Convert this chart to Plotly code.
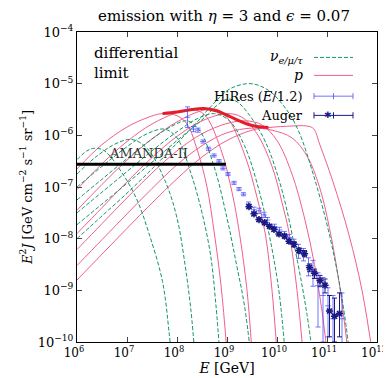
import plotly.graph_objects as go

# ---------------- data (log10 E [GeV], log10 E^2 J) ----------------
# proton curves (pink)
p_logE = [
    [6.0, 6.5, 7.0, 7.4, 7.7, 8.0, 8.2, 8.41, 8.6, 8.74, 8.88, 9.0],
    [6.0, 6.5, 7.0, 7.5, 8.0, 8.3, 8.55, 8.87, 9.1, 9.25, 9.4, 9.5],
    [6.0, 6.5, 7.0, 7.5, 8.0, 8.5, 8.8, 9.05, 9.38, 9.6, 9.77, 9.9, 10.0],
    [6.0, 6.5, 7.0, 7.5, 8.0, 8.5, 9.0, 9.3, 9.6, 9.9, 10.1, 10.25, 10.4, 10.52],
    [6.0, 6.5, 7.0, 7.5, 8.0, 8.5, 9.0, 9.4, 9.7, 10.0, 10.3, 10.55, 10.75, 10.9, 11.0],
    [6.0, 6.5, 7.0, 7.5, 8.0, 8.5, 9.0, 9.5, 9.9, 10.3, 10.6, 10.85, 11.05, 11.25, 11.42],
    [6.0, 6.5, 7.0, 7.5, 8.0, 8.5, 9.0, 9.5, 9.83, 10.3, 10.6, 10.73, 10.86, 11.12, 11.44, 11.7, 11.92],
]
p_logF = [
    [-6.65, -6.18, -5.84, -5.66, -5.58, -5.62, -5.78, -6.3, -7.0, -7.85, -8.9, -10.2],
    [-7.05, -6.55, -6.12, -5.78, -5.56, -5.5, -5.6, -6.25, -7.1, -7.9, -9.0, -10.2],
    [-7.45, -6.95, -6.48, -6.07, -5.74, -5.52, -5.5, -5.72, -6.45, -7.2, -7.93, -9.0, -10.2],
    [-7.9, -7.4, -6.9, -6.43, -6.02, -5.72, -5.58, -5.65, -5.97, -6.6, -7.3, -7.93, -9.0, -10.2],
    [-8.21, -7.71, -7.21, -6.73, -6.3, -5.97, -5.77, -5.72, -5.8, -6.1, -6.75, -7.6, -8.5, -9.4, -10.2],
    [-8.52, -8.02, -7.52, -7.03, -6.57, -6.2, -5.95, -5.86, -5.9, -6.05, -6.4, -7.0, -7.8, -8.9, -10.2],
    [-8.8, -8.3, -7.8, -7.31, -6.84, -6.42, -6.1, -5.9, -5.85, -5.82, -5.82, -5.87, -6.19, -6.9, -7.93, -9.0, -10.3],
]
# neutrino curves (green dashed)
nu_logE = [
    [6.0, 6.2, 6.35, 6.55, 6.93, 7.2, 7.45, 7.71, 7.84, 7.9],
    [6.0, 6.4, 6.8, 7.1, 7.4, 7.77, 8.0, 8.16, 8.28, 8.36],
    [6.0, 6.5, 7.0, 7.4, 7.75, 8.0, 8.29, 8.5, 8.67, 8.78, 8.86],
    [6.0, 6.5, 7.0, 7.5, 7.9, 8.2, 8.45, 8.74, 9.0, 9.19, 9.35, 9.48],
    [6.0, 6.5, 7.0, 7.5, 8.0, 8.4, 8.75, 9.05, 9.35, 9.65, 9.9, 10.05, 10.17],
    [6.0, 6.5, 7.0, 7.5, 8.0, 8.5, 8.8, 9.0, 9.2, 9.45, 9.77, 10.09, 10.41, 10.6, 10.72],
    [6.0, 6.5, 7.0, 7.5, 8.0, 8.35, 8.67, 9.06, 9.48, 9.83, 10.15, 10.41, 10.73, 11.05, 11.31, 11.46],
]
nu_logF = [
    [-6.47, -6.3, -6.25, -6.3, -6.77, -7.25, -7.93, -8.83, -9.8, -10.4],
    [-6.75, -6.4, -6.15, -6.08, -6.25, -6.9, -7.6, -8.5, -9.4, -10.3],
    [-7.0, -6.6, -6.22, -5.97, -5.88, -6.05, -6.77, -7.5, -8.31, -9.3, -10.3],
    [-7.25, -6.85, -6.45, -6.07, -5.82, -5.72, -5.9, -6.6, -7.6, -8.5, -9.3, -10.3],
    [-7.5, -7.1, -6.7, -6.3, -5.93, -5.68, -5.58, -5.72, -6.2, -7.1, -8.2, -9.1, -10.3],
    [-7.73, -7.33, -6.93, -6.52, -6.1, -5.7, -5.42, -5.3, -5.35, -5.61, -6.13, -7.03, -8.44, -9.47, -10.3],
    [-8.0, -7.56, -7.12, -6.65, -6.15, -5.8, -5.45, -5.1, -5.0, -5.13, -5.45, -5.87, -6.77, -7.93, -9.21, -10.3],
]
# differential limit envelope (thick red)
lim_logE = [7.71, 8.0, 8.3, 8.54, 8.8, 9.0, 9.2, 9.4, 9.6, 9.83]
lim_logF = [-5.58, -5.55, -5.5, -5.48, -5.53, -5.61, -5.7, -5.78, -5.83, -5.85]

# AMANDA-II limit
amanda_E = [1e6, 9.5e8]
amanda_F = [2.75e-7, 2.75e-7]

# HiRes (E/1.2)
hires_logE = [8.21, 8.33, 8.42, 8.52, 8.63, 8.74, 8.84, 8.92, 9.02, 9.14, 9.24, 9.33, 9.43,
              9.54, 9.64, 9.74, 9.81, 9.95, 10.05, 10.15, 10.24, 10.34, 10.43, 10.53,
              10.63, 10.72, 10.82, 10.92, 11.02, 11.12, 11.3]
hires_logF = [-5.65, -5.88, -5.9, -6.12, -6.26, -6.39, -6.50, -6.64, -6.75, -6.92, -7.04, -7.14, -7.33,
              -7.44, -7.46, -7.54, -7.64, -7.77, -7.83, -7.92, -7.98, -8.08, -8.23, -8.31,
              -8.52, -8.62, -8.91, -9.10, -9.3, -9.55, -9.55]
hires_err_up = [0.2, 0.05, 0.04, 0.03, 0.03, 0.03, 0.03, 0.03, 0.03, 0.03, 0.03, 0.03, 0.04,
                0.05, 0.05, 0.05, 0.05, 0.05, 0.05, 0.06, 0.06, 0.07, 0.12, 0.12,
                0.15, 0.2, 0.25, 0.35, 0.35, 0.45, 0.5]
hires_err_dn = [0.2, 0.05, 0.04, 0.03, 0.03, 0.03, 0.03, 0.03, 0.03, 0.03, 0.03, 0.03, 0.04,
                0.05, 0.05, 0.05, 0.05, 0.05, 0.05, 0.06, 0.06, 0.07, 0.15, 0.12,
                0.2, 0.3, 0.8, 0.9, 0.6, 0.5, 0.5]

# Auger
auger_logE = [9.44, 9.54, 9.64, 9.75, 9.85, 9.94, 10.04, 10.15, 10.24, 10.34, 10.44, 10.55,
              10.65, 10.75, 10.86, 10.96, 11.05, 11.15, 11.25]
auger_logF = [-7.38, -7.52, -7.63, -7.69, -7.76, -7.82, -7.91, -7.95, -8.05, -8.11, -8.23, -8.29,
              -8.56, -8.67, -8.81, -8.90, -9.4, -9.5, -9.45]
auger_err_up = [0.03, 0.03, 0.03, 0.03, 0.03, 0.03, 0.03, 0.04, 0.04, 0.05, 0.05, 0.06,
                0.07, 0.08, 0.1, 0.12, 0.3, 0.35, 0.4]
auger_err_dn = [0.03, 0.03, 0.03, 0.03, 0.03, 0.03, 0.03, 0.04, 0.04, 0.05, 0.05, 0.06,
                0.08, 0.1, 0.12, 0.15, 0.5, 0.5, 0.45]

# ---------------- styling ----------------
PINK = "rgb(240,96,140)"
GREEN = "rgb(20,150,100)"
RED = "rgb(226,30,40)"
BLUE = "rgba(70,70,255,0.75)"
NAVY = "rgb(25,25,130)"
FONT = "DejaVu Serif"


def tolin(v):
    return [10 ** a for a in v]


fig = go.Figure()

for xe, yf in zip(p_logE, p_logF):
    fig.add_trace(go.Scatter(x=tolin(xe), y=tolin(yf), mode="lines",
                             line=dict(color=PINK, width=1, shape="spline", smoothing=1.0),
                             showlegend=False, hoverinfo="skip"))
for xe, yf in zip(nu_logE, nu_logF):
    fig.add_trace(go.Scatter(x=tolin(xe), y=tolin(yf), mode="lines",
                             line=dict(color=GREEN, width=1, dash="4px,2px", shape="spline", smoothing=1.0),
                             showlegend=False, hoverinfo="skip"))

fig.add_trace(go.Scatter(x=tolin(lim_logE), y=tolin(lim_logF), mode="lines",
                         line=dict(color=RED, width=3, shape="spline"),
                         showlegend=False, hoverinfo="skip"))

fig.add_trace(go.Scatter(x=amanda_E, y=amanda_F, mode="lines",
                         line=dict(color="black", width=3), showlegend=False, hoverinfo="skip"))


def errs(logF, up, dn):
    hi = [10 ** (f + u) - 10 ** f for f, u in zip(logF, up)]
    lo = [10 ** f - 10 ** (f - d) for f, d in zip(logF, dn)]
    return hi, lo


hu, hl = errs(hires_logF, hires_err_up, hires_err_dn)
fig.add_trace(go.Scatter(x=tolin(hires_logE), y=tolin(hires_logF), mode="markers",
                         marker=dict(symbol="line-ew", size=4, color=BLUE, line=dict(color=BLUE, width=1)),
                         error_y=dict(type="data", array=hu, arrayminus=hl, color=BLUE, thickness=1, width=2.5),
                         showlegend=False, hoverinfo="skip"))
au, al = errs(auger_logF, auger_err_up, auger_err_dn)
fig.add_trace(go.Scatter(x=tolin(auger_logE), y=tolin(auger_logF), mode="markers",
                         marker=dict(symbol="asterisk-open", size=6, color=NAVY, line=dict(color=NAVY, width=1.5)),
                         error_y=dict(type="data", array=au, arrayminus=al, color=NAVY, thickness=1, width=2.5),
                         showlegend=False, hoverinfo="skip"))

xt = [10 ** k for k in range(6, 13)]
yt = [10 ** k for k in range(-10, -3)]
fig.update_xaxes(type="log", range=[6, 12], tickvals=xt,
                 ticktext=[f"10<sup>{k}</sup>" for k in range(6, 13)],
                 ticks="inside", ticklen=5, mirror="ticks", showline=True, linecolor="black",
                 linewidth=1, showgrid=False, zeroline=False, ticklabeloverflow="allow",
                 ticklabelshift=-3,
                 tickfont=dict(family=FONT, size=12, color="black"),
                 title=dict(text="<i>E</i> [GeV]", font=dict(family=FONT, size=14, color="black"), standoff=3))
fig.update_yaxes(type="log", range=[-10, -4], tickvals=yt,
                 ticktext=[f"10<sup>−{abs(k)}</sup>" for k in range(-10, -3)],
                 ticks="inside", ticklen=5, mirror="ticks", showline=True, linecolor="black",
                 linewidth=1, showgrid=False, zeroline=False, ticklabeloverflow="allow",
                 tickfont=dict(family=FONT, size=13, color="black"),
                 title=dict(text="<i>E</i><sup>2</sup><i>J</i> [GeV cm<sup>−2</sup> s<sup>−1</sup> sr<sup>−1</sup>]",
                            font=dict(family=FONT, size=13, color="black"), standoff=2))

LEG_Y = [0.918, 0.86, 0.793, 0.731]
ann = [
    dict(text="emission with <i>η</i> = 3 and <i>ϵ</i> = 0.07", x=0.49, y=1.052, xref="paper", yref="paper",
         yanchor="middle", showarrow=False, font=dict(family=FONT, size=15, color="black")),
    dict(text="differential<br>limit", x=0.05, y=0.968, xref="paper", yref="paper", xanchor="left", yanchor="top",
         align="left", showarrow=False, font=dict(family=FONT, size=15, color="black")),
    dict(text="AMANDA-II", x=7.42, y=-6.36, xref="x", yref="y", showarrow=False, yanchor="middle",
         font=dict(family=FONT, size=13, color="rgb(50,50,50)")),
    dict(text="<i>ν</i><sub><i>e/μ/τ</i></sub>", x=0.76, y=LEG_Y[0], xref="paper", yref="paper", xanchor="right",
         yanchor="middle", showarrow=False, font=dict(family=FONT, size=14, color="black")),
    dict(text="<i>p</i>", x=0.76, y=LEG_Y[1], xref="paper", yref="paper", xanchor="right",
         yanchor="middle", showarrow=False, font=dict(family=FONT, size=14, color="black")),
    dict(text="HiRes (<i>E</i>/1.2)", x=0.76, y=LEG_Y[2], xref="paper", yref="paper", xanchor="right",
         yanchor="middle", showarrow=False, font=dict(family=FONT, size=13, color="black")),
    dict(text="Auger", x=0.76, y=LEG_Y[3], xref="paper", yref="paper", xanchor="right",
         yanchor="middle", showarrow=False, font=dict(family=FONT, size=13, color="black")),
]
shapes = [
    dict(type="line", xref="paper", yref="paper", x0=0.79, x1=0.92, y0=LEG_Y[0], y1=LEG_Y[0],
         line=dict(color=GREEN, width=1, dash="4px,2px")),
    dict(type="line", xref="paper", yref="paper", x0=0.79, x1=0.92, y0=LEG_Y[1], y1=LEG_Y[1],
         line=dict(color=PINK, width=1)),
    dict(type="line", xref="paper", yref="paper", x0=0.79, x1=0.92, y0=LEG_Y[2], y1=LEG_Y[2],
         line=dict(color=BLUE, width=1)),
    dict(type="line", xref="paper", yref="paper", x0=0.79, x1=0.92, y0=LEG_Y[3], y1=LEG_Y[3],
         line=dict(color=NAVY, width=1)),
]
for yy, col in [(LEG_Y[2], BLUE), (LEG_Y[3], NAVY)]:
    for xx in (0.79, 0.855, 0.92):
        shapes.append(dict(type="line", xref="paper", yref="paper", x0=xx, x1=xx, y0=yy - 0.01, y1=yy + 0.01,
                           line=dict(color=col, width=1)))
ann.append(dict(text="✱", x=0.855, y=LEG_Y[3], xref="paper", yref="paper", showarrow=False, yanchor="middle",
                font=dict(size=9, color=NAVY)))

fig.update_layout(width=391, height=378, margin=dict(l=69, r=12, t=24, b=44),
                  paper_bgcolor="white", plot_bgcolor="white", annotations=ann, shapes=shapes,
                  showlegend=False, font=dict(family=FONT))

fig.write_html("out.html")
